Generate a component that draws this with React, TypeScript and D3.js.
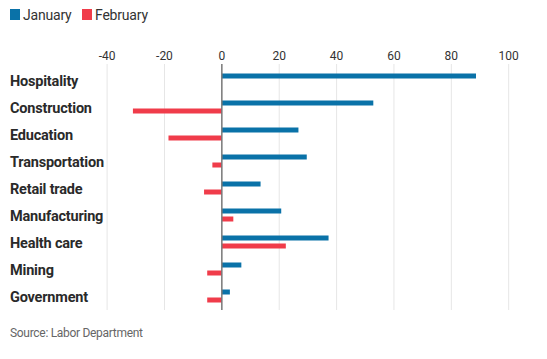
import React from "react";
import * as d3 from "d3";

const categories = ["Hospitality", "Construction", "Education", "Transportation", "Retail trade", "Manufacturing", "Health care", "Mining", "Government"];
const january = [88.6, 52.8, 26.7, 29.6, 13.5, 20.7, 37.2, 6.8, 2.8];
const february = [0, -31, -18.6, -3.3, -6.2, 4.0, 22.3, -5.1, -5.1];
const ticks = [-40, -20, 0, 20, 40, 60, 80, 100];
const seriesNames = ["January", "February"];
const colors = ["#0a72a8", "#f03c4a"];

export default function App() {
  const W = 547, H = 359;
  const x = d3.scaleLinear().domain([-40, 100]).range([107.1, 508.7]);
  const y = d3.scaleBand().domain(categories).range([62, 305]).paddingInner(0).paddingOuter(0);
  const font = "'Roboto', 'DejaVu Sans Condensed', sans-serif";
  const barH = 5;
  return (
    <svg width={W} height={H} style={{ position: "absolute", left: 0, top: 0 }} fontFamily={font}>
      <rect x={0} y={0} width={W} height={H} fill="#fff" />
      {seriesNames.map((s, i) => (
        <g key={s} transform={`translate(${i === 0 ? 10 : 82},0)`}>
          <rect x={0} y={9} width={10} height={11} fill={colors[i]} />
          <text x={13} y={19.5} fontSize={14} fill="#333" letterSpacing={-0.2}>{s}</text>
        </g>
      ))}
      {ticks.map(t => (
        <g key={t}>
          {t !== 0 && <line x1={x(t)} x2={x(t)} y1={64} y2={310} stroke="#e6e6e6" strokeWidth={1} />}
          <text x={x(t)} y={60} textAnchor="middle" fontSize={12} fill="#333">{t}</text>
        </g>
      ))}
      {categories.map((c, i) => {
        const y0 = (y(c) as number);
        return (
          <g key={c}>
            <text x={10} y={y0 + 24} fontSize={14.5} fontWeight="bold" fill="#2a2a2a" letterSpacing={-0.2}>{c}</text>
            <rect x={Math.min(x(0), x(january[i]))} y={y0 + 11.5} width={Math.abs(x(january[i]) - x(0))} height={barH} fill={colors[0]} />
            <rect x={Math.min(x(0), x(february[i]))} y={y0 + 19.5} width={Math.abs(x(february[i]) - x(0))} height={barH} fill={colors[1]} />
          </g>
        );
      })}
      <line x1={x(0)} x2={x(0)} y1={64} y2={310} stroke="#777" strokeWidth={1.5} />
      <text x={10} y={337} fontSize={12} fill="#666" letterSpacing={-0.3}>Source: Labor Department</text>
    </svg>
  );
}
